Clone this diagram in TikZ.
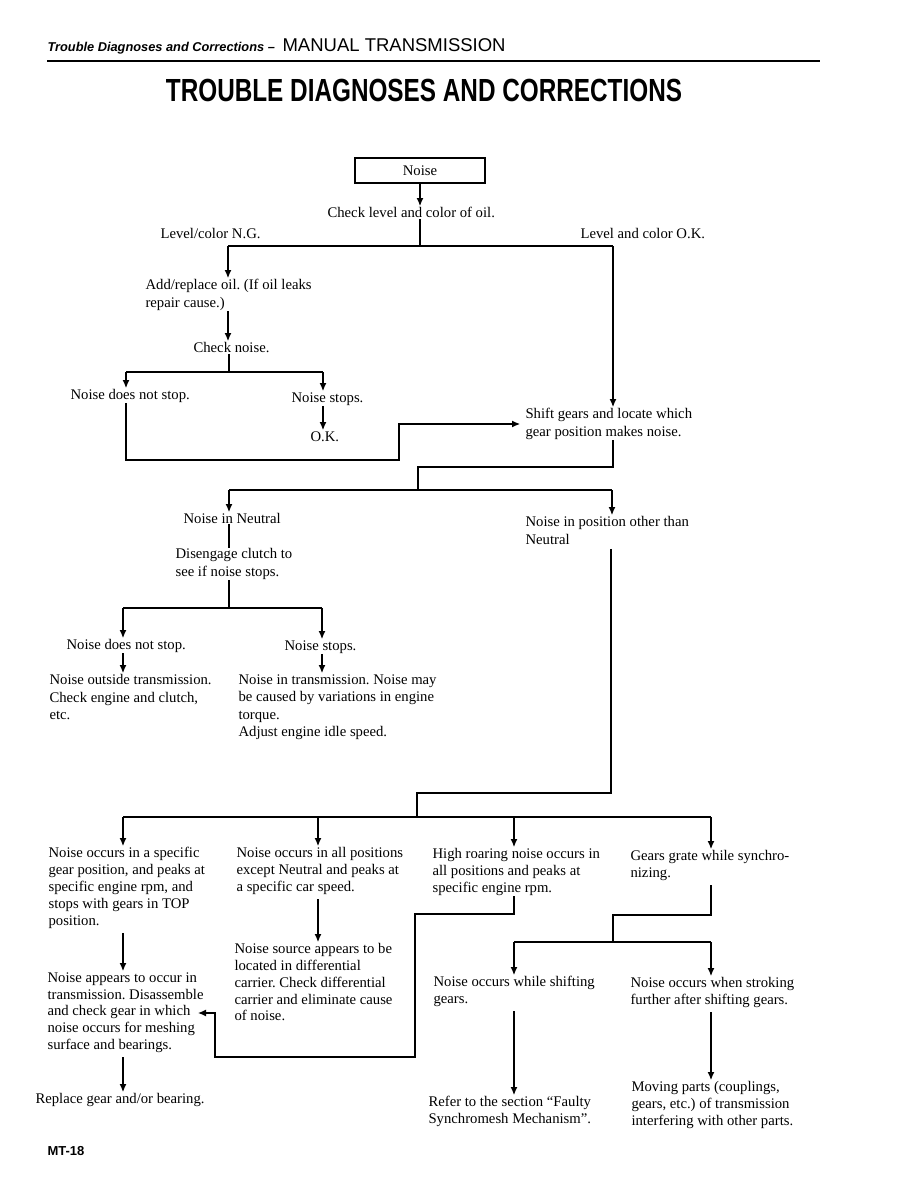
\documentclass[tikz,border=0pt]{standalone}
\usepackage{fontspec}
\setmainfont{Liberation Serif}
\newfontfamily\headfont{Liberation Sans}
\newfontfamily\condfont[FakeStretch=0.76]{Liberation Sans}
\usetikzlibrary{arrows.meta}
\frenchspacing

\begin{document}
\begin{tikzpicture}[x=1pt, y=-1pt, line width=1.1pt,
  txt/.style={anchor=north west, inner sep=0pt, align=left, font=\fontsize{14.7}{17.5}\selectfont},
  txtb/.style={txt, font=\fontsize{14.7}{16.8}\selectfont},
  arr/.style={-{Latex[length=8pt,width=7pt]}, shorten >=1pt}]
  \useasboundingbox (0,0) rectangle (918,1188);

  \node[anchor=base west, inner sep=0pt, font=\headfont\bfseries\itshape\fontsize{12.8}{15}\selectfont] (runhead) at (47,52) {Trouble Diagnoses and Corrections –};
  \node[anchor=base west, inner sep=0pt, font=\headfont\fontsize{18.5}{20}\selectfont] (section) at (282,52) {MANUAL TRANSMISSION};
  \draw[line width=2pt] (47,61) -- (820,61);
  \node[inner sep=0pt, font=\condfont\bfseries\fontsize{32}{36}\selectfont] (title) at (424,90) {TROUBLE DIAGNOSES AND CORRECTIONS};

  \node[draw, line width=1.8pt, minimum width=130pt, minimum height=25pt, inner sep=0pt, font=\fontsize{14.7}{17.5}\selectfont] (noise) at (420,170.5) {Noise};
  \node[txt] (chkoil) at (327,207) {Check level and color of oil.};
  \node[txt] (ng) at (160,228) {Level/color N.G.};
  \node[txt] (okl) at (580,228) {Level and color O.K.};
  \node[txt] (addoil) at (145,279) {Add/replace oil. (If oil leaks\\repair cause.)};
  \node[txt] (chknoise) at (193,342) {Check noise.};
  \node[txt] (nostop1) at (70,389) {Noise does not stop.};
  \node[txt] (stops1) at (291,392) {Noise stops.};
  \node[txt] (ok) at (310,431) {O.K.};
  \node[txt] (shift) at (525,408) {Shift gears and locate which\\gear position makes noise.};
  \node[txt] (neutral) at (183,513) {Noise in Neutral};
  \node[txt] (other) at (525,516) {Noise in position other than\\Neutral};
  \node[txt] (diseng) at (175,548) {Disengage clutch to\\see if noise stops.};
  \node[txt] (nostop2) at (66,639) {Noise does not stop.};
  \node[txt] (stops2) at (284,640) {Noise stops.};
  \node[txt] (outside) at (49,674) {Noise outside transmission.\\Check engine and clutch,\\etc.};
  \node[txt] (intrans) at (238,674) {Noise in transmission. Noise may\\be caused by variations in engine\\torque.\\Adjust engine idle speed.};
  \node[txtb] (specific) at (48,847) {Noise occurs in a specific\\gear position, and peaks at\\specific engine rpm, and\\stops with gears in TOP\\position.};
  \node[txtb] (allpos) at (236,847) {Noise occurs in all positions\\except Neutral and peaks at\\a specific car speed.};
  \node[txtb] (roar) at (432,848) {High roaring noise occurs in\\all positions and peaks at\\specific engine rpm.};
  \node[txtb] (grate) at (630,850) {Gears grate while synchro-\\nizing.};
  \node[txtb] (appears) at (47,972) {Noise appears to occur in\\transmission. Disassemble\\and check gear in which\\noise occurs for meshing\\surface and bearings.};
  \node[txtb] (diff) at (234,943) {Noise source appears to be\\located in differential\\carrier. Check differential\\carrier and eliminate cause\\of noise.};
  \node[txtb] (shiftng) at (433,976) {Noise occurs while shifting\\gears.};
  \node[txtb] (stroke) at (630,977) {Noise occurs when stroking\\further after shifting gears.};
  \node[txtb] (replace) at (35,1093) {Replace gear and/or bearing.};
  \node[txtb] (refer) at (428,1096) {Refer to the section ``Faulty\\Synchromesh Mechanism''.};
  \node[txtb] (moving) at (631,1081) {Moving parts (couplings,\\gears, etc.) of transmission\\interfering with other parts.};
  \node[anchor=base west, inner sep=0pt, font=\headfont\bfseries\fontsize{13}{15}\selectfont] (pageno) at (47,1155) {MT-18};

  \coordinate (j1) at (420,246);
  \coordinate (jL) at (228,246);
  \coordinate (jR) at (613,246);
  \coordinate (j2) at (229,372);
  \coordinate (j2L) at (126,372);
  \coordinate (j2R) at (323,372);
  \coordinate (bend1) at (399,460);
  \coordinate (bend2) at (399,424);
  \coordinate (k1) at (613,467);
  \coordinate (k3) at (418,490);
  \coordinate (kL) at (229,490);
  \coordinate (kR) at (612,490);
  \coordinate (m) at (229,608);
  \coordinate (mL) at (123,608);
  \coordinate (mR) at (322,608);
  \coordinate (n1) at (611,793);
  \coordinate (n3) at (417,817);
  \coordinate (nA) at (123,817);
  \coordinate (nB) at (318,817);
  \coordinate (nC) at (514,817);
  \coordinate (nD) at (711,817);
  \coordinate (p1) at (415,914);
  \coordinate (p2) at (215,1057);
  \coordinate (p3) at (215,1013);
  \coordinate (q1) at (613,915);
  \coordinate (q) at (613,942);
  \coordinate (qL) at (514,942);
  \coordinate (qR) at (711,942);

  \draw[arr] (noise.south) -- (noise.south |- chkoil.north);
  \draw (j1 |- chkoil.south) -- (j1);
  \draw (jL) -- (jR);
  \draw[arr] (jL) -- (jL |- addoil.north);
  \draw[arr] (jR) -- (jR |- shift.north);
  \draw[arr] (jL |- addoil.south) -- (jL |- chknoise.north);
  \draw (j2 |- chknoise.south) -- (j2);
  \draw (j2L) -- (j2R);
  \draw[arr] (j2L) -- (j2L |- nostop1.north);
  \draw[arr] (j2R) -- (j2R |- stops1.north);
  \draw[arr] (j2R |- stops1.south) -- (j2R |- ok.north);
  \draw[arr, shorten >=5pt] (j2L |- nostop1.south) |- (bend1) -- (bend2) -- (shift.west |- bend2);
  \draw (jR |- shift.south) -- (k1) -| (k3);
  \draw (kL) -- (kR);
  \draw[arr] (kL) -- (kL |- neutral.north);
  \draw[arr] (kR) -- (kR |- other.north);
  \draw (kL |- neutral.south) -- (kL |- diseng.north);
  \draw (m |- diseng.south) -- (m);
  \draw (mL) -- (mR);
  \draw[arr] (mL) -- (mL |- nostop2.north);
  \draw[arr] (mR) -- (mR |- stops2.north);
  \draw[arr] (mL |- nostop2.south) -- (mL |- outside.north);
  \draw[arr] (mR |- stops2.south) -- (mR |- intrans.north);
  \draw[shorten <=4pt] (n1 |- other.south) -- (n1) -| (n3);
  \draw (nA) -- (nD);
  \draw[arr] (nA) -- (nA |- specific.north);
  \draw[arr] (nB) -- (nB |- allpos.north);
  \draw[arr] (nC) -- (nC |- roar.north);
  \draw[arr] (nD) -- (nD |- grate.north);
  \draw[arr, shorten <=4pt] (nA |- specific.south) -- (nA |- appears.north);
  \draw[arr, shorten <=4pt] (nA |- appears.south) -- (nA |- replace.north);
  \draw[arr, shorten <=4pt] (nB |- allpos.south) -- (nB |- diff.north);
  \draw[arr, shorten >=0pt] (nC |- roar.south) |- (p1) |- (p2) -- (p3) -- ([xshift=-6pt]appears.east |- p3);
  \draw[shorten <=4pt] (nD |- grate.south) |- (q1) -- (q);
  \draw (qL) -- (qR);
  \draw[arr] (qL) -- (qL |- shiftng.north);
  \draw[arr] (qR) -- (qR |- stroke.north);
  \draw[arr, shorten <=4pt] (qL |- shiftng.south) -- (qL |- refer.north);
  \draw[arr, shorten <=4pt] (qR |- stroke.south) -- (qR |- moving.north);
\end{tikzpicture}
\end{document}
